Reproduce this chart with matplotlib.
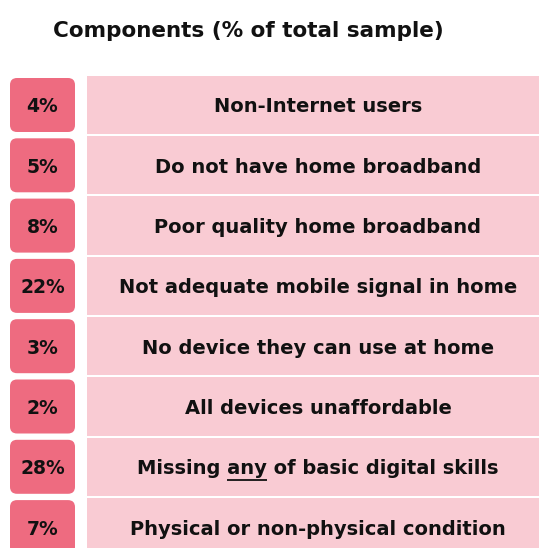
import matplotlib.pyplot as plt
from matplotlib.patches import FancyBboxPatch, Rectangle

title = "Components (% of total sample)"
shares = [4, 5, 8, 22, 3, 2, 28, 7]
components = [
    "Non-Internet users",
    "Do not have home broadband",
    "Poor quality home broadband",
    "Not adequate mobile signal in home",
    "No device they can use at home",
    "All devices unaffordable",
    "Missing any of basic digital skills",
    "Physical or non-physical condition",
]
emphasis = {6: ("Missing ", "any")}  # row -> (text before, underlined word)

BOX_COLOR = "#ee6b80"
BAR_COLOR = "#f9cbd3"
FONT = "DejaVu Sans"

W, H = 539, 548
fig = plt.figure(figsize=(W / 100, H / 100), dpi=100)
ax = fig.add_axes([0, 0, 1, 1])
ax.set_xlim(0, W)
ax.set_ylim(H, 0)
ax.axis("off")

top0, pitch = 78, 60.3
box_x, box_w, box_h, r = 10, 65, 54, 7
bar_x = 87
label_cx = 318
fs = 14

ax.text(248, 37, title, ha="center", va="baseline", fontsize=15.5,
        fontweight="bold", family=FONT, color="#111111")

labels = []
for i, (v, name) in enumerate(zip(shares, components)):
    y = top0 + i * pitch
    cy = y + box_h / 2
    ax.add_patch(Rectangle((bar_x, cy - (pitch - 2) / 2), W, pitch - 2,
                           facecolor=BAR_COLOR, edgecolor="none"))
    ax.add_patch(FancyBboxPatch((box_x + r, y + r), box_w - 2 * r, box_h - 2 * r,
                                boxstyle=f"round,pad={r}", facecolor=BOX_COLOR,
                                edgecolor="none"))
    ax.text(box_x + box_w / 2, cy + 7.5, f"{v}%", ha="center", va="baseline",
            fontsize=13.5, fontweight="bold", family=FONT, color="#111111")
    t = ax.text(label_cx, cy + 7.5, name, ha="center", va="baseline",
                fontsize=fs, fontweight="bold", family=FONT, color="#111111")
    labels.append((i, t, cy + 7.5))

# underline the emphasised word
fig.canvas.draw()
renderer = fig.canvas.get_renderer()


def text_width(s):
    tmp = ax.text(0, 0, s, fontsize=fs, fontweight="bold", family=FONT)
    w = tmp.get_window_extent(renderer).width
    tmp.remove()
    return w


for i, t, base in labels:
    if i not in emphasis:
        continue
    before, word = emphasis[i]
    left = t.get_window_extent(renderer).x0
    x_end = left + text_width(before + word)
    x_start = x_end - text_width(word)
    ax.plot([x_start, x_end], [base + 6, base + 6], color="#111111", lw=1.3,
            solid_capstyle="butt")

fig.savefig("out.png", dpi=100)
